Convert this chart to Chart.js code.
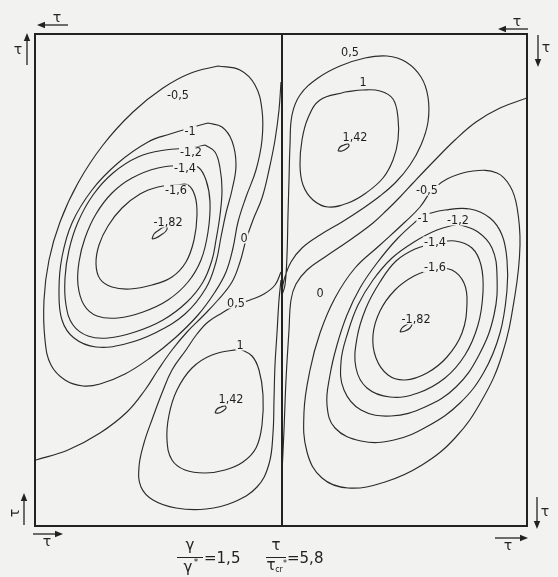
<!DOCTYPE html>
<html>
<head>
<meta charset="utf-8">
<script src="https://cdn.jsdelivr.net/npm/chart.js@4.4.1/dist/chart.umd.min.js"></script>
<style>
  html, body { margin: 0; padding: 0; background: #f2f2f0; }
  canvas { display: block; }
</style>
</head>
<body>
<canvas id="plate" width="558" height="577"></canvas>
<script>
// Plate coordinates: x from the left edge, y from the bottom edge (492 x 492 units).
// The stiffener divides the plate into two panels at x = 247.
const plateSize = 492;
const stiffenerX = 247;

// Contour levels of the buckling mode (deflection w / w_ref)
const levels = [-0.5, -1, -1.2, -1.4, -1.6, -1.82, 0, 0.5, 1, 1.42];

// ---- left panel contours ----
const leftM05 = [[183,460],[205,456],[220,441],[227,416],[227,386],[221,356],[211,329],[203,304],[198,278],[191,254],[180,234],[163,211],[140,188],[115,168],[90,152],[65,142],[48,140],[30,146],[16,161],[10,186],[9,226],[14,266],[25,304],[43,343],[68,381],[98,414],[128,438],[156,453],[183,460]];
const leftM1 = [[173,403],[187,399],[197,385],[201,361],[197,336],[191,313],[186,289],[181,264],[171,238],[150,212],[120,193],[90,182],[61,179],[39,188],[27,206],[24,236],[27,269],[37,303],[57,336],[83,363],[113,384],[135,392],[155,398],[173,403]];
const leftM12 = [[170,381],[180,374],[185,358],[187,336],[185,311],[181,286],[177,266],[168,244],[152,224],[128,206],[100,194],[73,188],[53,190],[38,201],[31,221],[30,248],[34,276],[43,304],[58,331],[78,353],[103,369],[130,376],[156,378],[170,381]];
const leftM14 = [[151,361],[163,359],[171,346],[175,324],[173,294],[166,266],[153,244],[133,226],[108,214],[83,208],[62,210],[49,221],[43,241],[44,264],[50,288],[61,312],[77,333],[97,348],[123,358],[151,361]];
const leftM16 = [[141,341],[153,341],[160,330],[162,311],[159,286],[151,264],[137,249],[117,241],[95,237],[77,239],[65,247],[61,262],[64,281],[73,300],[87,318],[105,332],[123,339],[141,341]];
const leftM182 = [[117,287],[119,292],[124,296],[129,299],[132,299],[131,295],[126,291],[121,288],[117,287]];
const leftZero = [[246,444],[244,416],[240,386],[234,356],[227,328],[218,306],[211,286],[205,264],[197,244],[183,226],[168,210],[152,194],[137,176],[123,156],[110,136],[92,114],[65,93],[33,76],[1,66]];
const leftP05 = [[246,254],[240,241],[229,232],[215,226],[201,221],[187,213],[173,204],[162,192],[151,176],[137,156],[127,133],[118,109],[109,83],[104,59],[106,39],[118,26],[141,18],[171,17],[199,24],[222,39],[234,62],[238,93],[239,126],[240,161],[242,193],[244,226],[246,246]];
const leftP1 = [[205,177],[217,170],[224,156],[228,131],[227,101],[221,78],[208,64],[190,56],[170,53],[150,56],[137,66],[132,86],[134,111],[142,136],[157,158],[177,171],[205,177]];
const leftP142 = [[180,113],[182,117],[186,119],[190,120],[191,118],[188,115],[184,113],[180,113]];

// ---- right panel contours ----
const rightM05 = [[395,334],[412,347],[438,355],[462,353],[475,340],[482,319],[485,281],[480,231],[467,171],[447,126],[420,88],[387,61],[350,44],[313,38],[287,48],[272,74],[269,114],[275,156],[285,193],[300,228],[320,258],[345,281],[370,304],[385,319],[395,334]];
const rightM1 = [[388,311],[410,316],[435,317],[455,308],[467,291],[472,266],[472,236],[465,193],[449,154],[425,123],[393,100],[359,86],[326,85],[300,98],[292,121],[295,151],[302,181],[312,211],[325,238],[342,263],[363,288],[388,311]];
const rightM12 = [[423,302],[443,294],[457,278],[462,251],[459,211],[444,171],[421,139],[390,119],[356,110],[326,116],[309,136],[306,164],[313,194],[323,221],[338,246],[357,268],[379,284],[402,296],[423,302]];
const rightM14 = [[400,283],[420,285],[437,278],[446,261],[448,234],[443,201],[430,171],[410,148],[383,133],[355,129],[332,138],[321,158],[322,188],[331,218],[345,244],[361,265],[380,277],[400,283]];
const rightM16 = [[400,258],[417,256],[429,243],[432,223],[427,193],[412,169],[392,153],[370,146],[353,151],[341,168],[338,191],[345,215],[360,236],[379,250],[400,258]];
const rightM182 = [[365,194],[367,198],[371,201],[375,203],[377,202],[375,198],[370,195],[365,194]];
const rightZero = [[492,428],[465,418],[441,404],[420,386],[400,366],[378,343],[365,329],[352,316],[338,303],[315,286],[290,269],[272,256],[261,242],[256,226],[254,196],[251,146],[249,96],[247,53]];
const rightP05 = [[247,231],[250,241],[252,271],[253,311],[254,346],[255,381],[257,411],[265,431],[283,448],[305,460],[330,468],[352,470],[371,464],[386,449],[393,429],[393,404],[386,381],[375,361],[361,344],[345,330],[327,317],[307,304],[285,291],[267,278],[256,264],[249,246],[247,234]];
const rightP1 = [[310,434],[328,436],[345,435],[358,427],[363,408],[363,386],[358,366],[348,348],[331,333],[313,323],[293,319],[278,326],[268,341],[265,361],[267,386],[273,408],[285,426],[310,434]];
const rightP142 = [[303,375],[305,379],[309,381],[313,382],[314,380],[311,377],[307,375],[303,375]];

// Contour lines per panel, in the order of `levels`
const leftLines = [leftM05, leftM1, leftM12, leftM14, leftM16, leftM182, leftZero, leftP05, leftP1, leftP142];
const rightLines = [rightM05, rightM1, rightM12, rightM14, rightM16, rightM182, rightZero, rightP05, rightP1, rightP142];

// Where each level value is written (plate coordinates), same order as `levels`
const leftLabelAt = [[143,431],[155,395],[156,374],[150,358],[141,336],[133,304],[209,288],[201,223],[205,181],[196,127]];
const rightLabelAt = [[392,336],[388,308],[423,306],[400,284],[400,259],[381,207],[285,233],[315,474],[328,444],[320,389]];

// Parameters of the case shown
const stiffnessRatio = 1.5;   // gamma / gamma*
const loadRatio = 5.8;        // tau / tau_cr*

const fmt = v => String(v).replace('.', ',');

const PAPER = '#f2f2f0';
const INK = '#2b2b2b';
const LABEL_FONT = "12.5px 'Liberation Sans Narrow', 'DejaVu Sans Condensed', 'Arial Narrow', sans-serif";

const datasets = [];
[leftLines, rightLines].forEach(lines => {
  lines.forEach((pts, i) => {
    datasets.push({
      label: fmt(levels[i]),
      data: pts.map(p => ({ x: p[0], y: p[1] })),
      showLine: true,
      borderColor: INK,
      borderWidth: 1.15,
      pointRadius: 0,
      tension: 0.4,
      fill: false
    });
  });
});

const paperPlugin = {
  id: 'paper',
  beforeDraw(chart) {
    const c = chart.ctx;
    c.save();
    c.fillStyle = PAPER;
    c.fillRect(0, 0, chart.width, chart.height);
    c.restore();
  }
};

function arrow(c, x1, y1, x2, y2) {
  const a = Math.atan2(y2 - y1, x2 - x1);
  const L = 8, W = 3.2;
  c.beginPath();
  c.moveTo(x1, y1);
  c.lineTo(x2 - Math.cos(a) * (L - 1), y2 - Math.sin(a) * (L - 1));
  c.stroke();
  c.beginPath();
  c.moveTo(x2, y2);
  c.lineTo(x2 - Math.cos(a) * L - Math.sin(a) * W, y2 - Math.sin(a) * L + Math.cos(a) * W);
  c.lineTo(x2 - Math.cos(a) * L + Math.sin(a) * W, y2 - Math.sin(a) * L - Math.cos(a) * W);
  c.closePath();
  c.fill();
}

const decorPlugin = {
  id: 'decor',
  afterDatasetsDraw(chart) {
    const c = chart.ctx;
    const ca = chart.chartArea;
    const sx = chart.scales.x, sy = chart.scales.y;
    c.save();

    // contour level labels, breaking the line where they sit
    c.font = LABEL_FONT;
    c.textAlign = 'center';
    c.textBaseline = 'middle';
    [leftLabelAt, rightLabelAt].forEach(anchors => {
      anchors.forEach((p, i) => {
        const t = fmt(levels[i]);
        const x = sx.getPixelForValue(p[0]);
        const y = sy.getPixelForValue(p[1]);
        const w = c.measureText(t).width + 2;
        c.fillStyle = PAPER;
        c.fillRect(x - w / 2, y - 5.5, w, 11);
        c.fillStyle = '#1e1e1e';
        c.fillText(t, x, y + 0.5);
      });
    });

    // plate outline and stiffener
    c.strokeStyle = '#222';
    c.lineWidth = 2;
    c.strokeRect(ca.left, ca.top, ca.right - ca.left, ca.bottom - ca.top);
    const xs = sx.getPixelForValue(stiffenerX);
    c.beginPath();
    c.moveTo(xs, ca.top);
    c.lineTo(xs, ca.bottom);
    c.stroke();

    // shear load arrows
    c.lineWidth = 1.3;
    c.strokeStyle = '#222';
    c.fillStyle = '#222';
    arrow(c, ca.left + 33, ca.top - 9, ca.left + 2, ca.top - 9);
    arrow(c, ca.left - 8, ca.top + 31, ca.left - 8, ca.top - 1);
    arrow(c, ca.right + 1, ca.top - 5, ca.right - 29, ca.top - 5);
    arrow(c, ca.right + 11, ca.top + 1, ca.right + 11, ca.top + 33);
    arrow(c, ca.left - 11, ca.bottom - 1, ca.left - 11, ca.bottom - 33);
    arrow(c, ca.left - 2, ca.bottom + 8, ca.left + 28, ca.bottom + 8);
    arrow(c, ca.right + 10, ca.bottom - 29, ca.right + 10, ca.bottom + 3);
    arrow(c, ca.right - 32, ca.bottom + 12, ca.right + 1, ca.bottom + 12);

    c.font = "14px 'DejaVu Sans', sans-serif";
    c.textAlign = 'center';
    c.textBaseline = 'middle';
    c.fillText('τ', ca.left + 22, ca.top - 16);
    c.fillText('τ', ca.left - 17, ca.top + 16);
    c.fillText('τ', ca.right - 10, ca.top - 12);
    c.fillText('τ', ca.right + 19, ca.top + 14);
    c.fillText('τ', ca.right + 18, ca.bottom - 14);
    c.fillText('τ', ca.left + 12, ca.bottom + 16);
    c.fillText('τ', ca.right - 19, ca.bottom + 20);
    c.save();
    c.translate(ca.left - 20, ca.bottom - 13);
    c.rotate(-Math.PI / 2);
    c.fillText('τ', 0, 0);
    c.restore();

    // case parameters below the plate
    const cy = ca.bottom + 31;
    c.font = "15px 'DejaVu Sans', sans-serif";
    c.fillStyle = '#222';
    c.lineWidth = 1;
    // gamma / gamma* = 1,5
    c.textAlign = 'center';
    c.fillText('γ', 190, cy - 11);
    c.beginPath(); c.moveTo(177, cy + 0.5); c.lineTo(203, cy + 0.5); c.stroke();
    c.fillText('γ', 188, cy + 11);
    c.font = "9px 'DejaVu Sans', sans-serif";
    c.fillText('*', 196, cy + 6);
    c.font = "15px 'DejaVu Sans', sans-serif";
    c.textAlign = 'left';
    c.fillText('=' + fmt(stiffnessRatio), 204, cy + 2);
    // tau / tau_cr* = 5,8
    c.textAlign = 'center';
    c.fillText('τ', 276, cy - 11);
    c.beginPath(); c.moveTo(266, cy + 0.5); c.lineTo(286, cy + 0.5); c.stroke();
    c.fillText('τ', 271, cy + 9);
    c.font = "8px 'DejaVu Sans', sans-serif";
    c.fillText('cr', 279, cy + 13);
    c.fillText('*', 285, cy + 7);
    c.font = "15px 'DejaVu Sans', sans-serif";
    c.textAlign = 'left';
    c.fillText('=' + fmt(loadRatio), 287, cy + 2);

    c.restore();
  }
};

new Chart(document.getElementById('plate'), {
  type: 'scatter',
  data: { datasets },
  options: {
    responsive: false,
    devicePixelRatio: 1,
    animation: false,
    layout: { padding: { left: 35, right: 31, top: 34, bottom: 51 } },
    scales: {
      x: { type: 'linear', min: 0, max: plateSize, display: false },
      y: { type: 'linear', min: 0, max: plateSize, display: false }
    },
    plugins: { legend: { display: false }, tooltip: { enabled: false } },
    elements: { point: { radius: 0 } }
  },
  plugins: [paperPlugin, decorPlugin]
});
</script>
</body>
</html>
